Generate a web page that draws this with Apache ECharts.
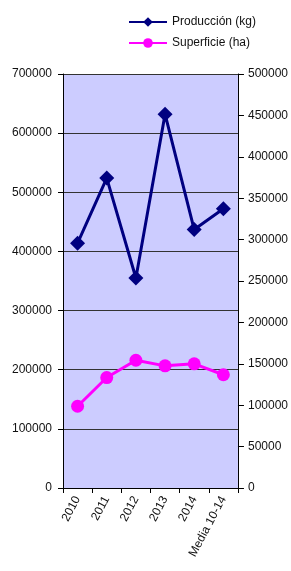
<!DOCTYPE html>
<html>
<head>
<meta charset="utf-8">
<script src="https://cdn.jsdelivr.net/npm/echarts@6/dist/echarts.min.js"></script>
<style>
  html, body { margin: 0; padding: 0; background: #fff; }
  #chart { width: 291px; height: 571px; }
</style>
</head>
<body>
<div id="chart"></div>
<script>
var categories = ["2010", "2011", "2012", "2013", "2014", "Media 10-14"];
var produccion = [414000, 524000, 355000, 632000, 437000, 472000];
var superficie = [98700, 133400, 154300, 147500, 150000, 136800];

var myChart = echarts.init(document.getElementById("chart"));
var font = "Liberation Sans, Arial, sans-serif";
var plain = function (v) { return String(v); };

var option = {
  backgroundColor: "#fff",
  animation: false,
  textStyle: { fontFamily: font },
  legend: {
    orient: "vertical",
    left: 123,
    top: 11,
    itemWidth: 38,
    itemHeight: 12,
    itemGap: 9,
    textStyle: { color: "#111", fontSize: 12, fontFamily: font },
    data: ["Producción (kg)", "Superficie (ha)"]
  },
  grid: {
    left: 63,
    right: 50,
    top: 74,
    bottom: 83,
    show: true,
    backgroundColor: "#ccccff",
    borderWidth: 0
  },
  xAxis: {
    type: "category",
    data: categories,
    boundaryGap: true,
    axisLine: { lineStyle: { color: "#000", width: 1 } },
    axisTick: { show: true, alignWithLabel: false, length: 5, lineStyle: { color: "#000" } },
    axisLabel: { rotate: 62, color: "#111", fontSize: 12, fontFamily: font, margin: 9, interval: 0 }
  },
  yAxis: [
    {
      type: "value",
      min: 0,
      max: 700000,
      interval: 100000,
      axisLine: { show: true, lineStyle: { color: "#000" } },
      axisTick: { show: true, length: 5, lineStyle: { color: "#000" } },
      axisLabel: { color: "#111", fontSize: 12, fontFamily: font, margin: 11, formatter: plain },
      splitLine: { show: true, lineStyle: { color: "#333", width: 1 } }
    },
    {
      type: "value",
      min: 0,
      max: 500000,
      interval: 50000,
      axisLine: { show: true, lineStyle: { color: "#000" } },
      axisTick: { show: true, length: 6, lineStyle: { color: "#000" } },
      axisLabel: { color: "#111", fontSize: 12, fontFamily: font, margin: 10, formatter: plain },
      splitLine: { show: false }
    }
  ],
  series: [
    {
      name: "Producción (kg)",
      type: "line",
      yAxisIndex: 0,
      data: produccion,
      symbol: "diamond",
      symbolSize: 15,
      lineStyle: { color: "#000080", width: 3 },
      itemStyle: { color: "#000080" }
    },
    {
      name: "Superficie (ha)",
      type: "line",
      yAxisIndex: 1,
      data: superficie,
      symbol: "circle",
      symbolSize: 13,
      lineStyle: { color: "#ff00ff", width: 3 },
      itemStyle: { color: "#ff00ff" }
    }
  ]
};
option && myChart.setOption(option);
</script>
</body>
</html>
